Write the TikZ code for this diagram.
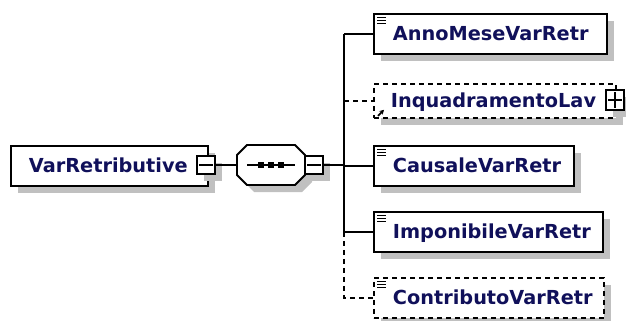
\documentclass[tikz,border=0pt]{standalone}
\usepackage{fontspec}
\setmainfont{DejaVu Sans}
\usetikzlibrary{shadows,calc,arrows.meta}
\definecolor{txtblue}{RGB}{16,16,90}
\definecolor{shadowgray}{RGB}{192,192,192}
\tikzset{
  shd/.style={drop shadow={shadow xshift=7pt,shadow yshift=-7pt,fill=shadowgray,opacity=1}},
  elem/.style={draw=black,line width=1.8pt,fill=white,shd,minimum height=40pt,
    inner xsep=19pt,inner ysep=0pt,text height=13.5pt,text depth=0pt,align=left,
    font=\bfseries\fontsize{19.3}{21}\selectfont,text=txtblue,anchor=north west},
  opt/.style={dash pattern=on 5pt off 4pt},
  sq/.style={draw=black,line width=1.6pt,fill=white,shd,minimum width=18pt,minimum height=18pt,inner sep=0pt},
  seqbox/.style={minimum width=68pt,minimum height=40pt,inner sep=0pt},
  conn/.style={line width=1.8pt},
  icon/.style={line width=1.3pt},
}
\newcommand{\txticon}[1]{%
  \draw[icon] ($(#1.north west)+(4,4.5)$) -- +(9,0);
  \draw[icon] ($(#1.north west)+(4,7.5)$) -- +(9,0);
  \draw[icon] ($(#1.north west)+(4,10.5)$) -- +(9,0);}
\begin{document}
\begin{tikzpicture}[x=1pt,y=-1pt]
\useasboundingbox (0,0) rectangle (626,321);
% root
\node[elem,inner xsep=18pt,text width=161pt] (root) at (10,145) {VarRetributive};
% sequence compositor
\node[seqbox] (seq) at (271,165) {};
\fill[shadowgray] ($(seq.center)+(7,7)$) ++(-34,-10) -- ++(10,-10) -- ++(48,0) -- ++(10,10) -- ++(0,20) -- ++(-10,10) -- ++(-48,0) -- ++(-10,-10) -- cycle;
\filldraw[fill=white,draw=black,line width=1.8pt] (seq.center) ++(-34,-10) -- ++(10,-10) -- ++(48,0) -- ++(10,10) -- ++(0,20) -- ++(-10,10) -- ++(-48,0) -- ++(-10,-10) -- cycle;
% children
\node[elem,text width=195pt] (anno) at (373,13) {AnnoMeseVarRetr};
\node[elem,opt,minimum height=34pt,inner xsep=17pt,text width=208pt] (inq) at (373,83) {InquadramentoLav};
\node[elem,text width=162pt] (caus) at (373,145) {CausaleVarRetr};
\node[elem,text width=191pt] (imp) at (373,211) {ImponibileVarRetr};
\node[elem,opt,text width=192pt] (contr) at (373,277) {ContributoVarRetr};
% squares
\node[sq] (m1) at (206,165) {};
\node[sq] (m2) at (314,165) {};
\node[sq,minimum height=20pt] (pl) at (615,100) {};
\draw[line width=1.5pt] ($(m1.west)+(3,0)$) -- ($(m1.east)+(-3,0)$);
\draw[line width=1.5pt] ($(m2.west)+(3,0)$) -- ($(m2.east)+(-3,0)$);
\draw[line width=1.5pt] ($(pl.west)+(3,0)$) -- ($(pl.east)+(-3,0)$);
\draw[line width=1.5pt] ($(pl.north)+(0,3)$) -- ($(pl.south)+(0,-3)$);
% sequence icon
\draw[conn] ($(seq.center)+(-24,0)$) -- ($(seq.center)+(24,0)$);
\fill ($(seq.center)+(-13,-3)$) rectangle +(6,6);
\fill ($(seq.center)+(-3,-3)$) rectangle +(6,6);
\fill ($(seq.center)+(7,-3)$) rectangle +(6,6);
% icons
\txticon{anno}
\txticon{caus}
\txticon{imp}
\txticon{contr}
\draw[line width=1.8pt,-{Stealth[length=4.5pt,width=5pt]}] ($(inq.south west)+(5,-3)$) -- +(6,-6);
% connectors
\coordinate (sp) at (344,165);
\draw[conn] (m1.east) -- (seq.west);
\draw[conn] (m2.east) -- (sp);
\draw[conn] (anno.west -| sp) -- (anno.west);
\draw[conn] (anno.west -| sp) -- (imp.west -| sp);
\draw[conn] (caus.west -| sp) -- (caus.west);
\draw[conn] (imp.west -| sp) -- (imp.west);
\draw[conn,opt] (inq.west -| sp) -- (inq.west);
\draw[conn,opt] (imp.west -| sp) -- (contr.west -| sp) -- (contr.west);
\end{tikzpicture}
\end{document}
